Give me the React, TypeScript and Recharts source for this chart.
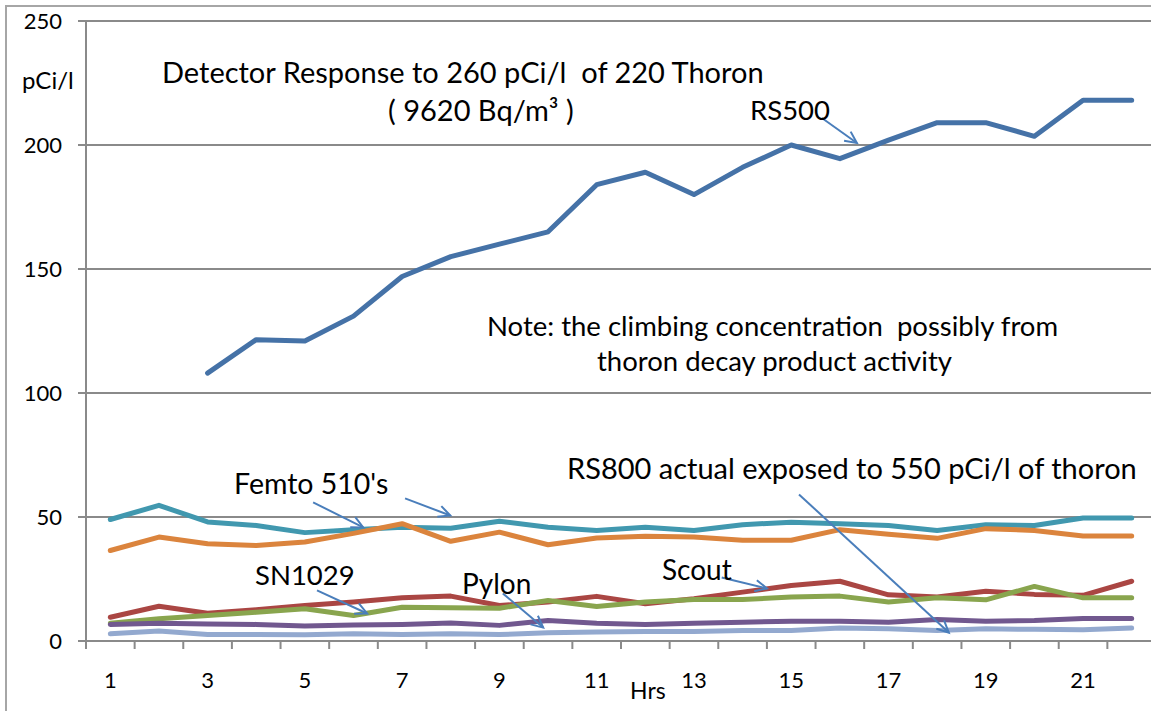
import React from 'react';
import { LineChart, Line, XAxis, YAxis, CartesianGrid, ReferenceLine } from 'recharts';

const hours = [1, 2, 3, 4, 5, 6, 7, 8, 9, 10, 11, 12, 13, 14, 15, 16, 17, 18, 19, 20, 21, 22];

const rs500 = [null, null, 108, 121.5, 121, 131, 147, 155, 160, 165, 184, 189, 180, 191, 200, 194.5, 202, 209, 209, 203.5, 218, 218];
const scout = [9.6, 14, 11.2, 12.6, 14.3, 15.7, 17.4, 18.1, 14.3, 15.7, 18, 15, 17, 19.7, 22.4, 24.1, 18.6, 17.7, 20.1, 18.8, 18.4, 24.1];
const sn1029 = [7.2, 9, 10.3, 11.6, 13, 10.3, 13.6, 13.4, 13.2, 16.3, 13.9, 15.7, 16.7, 16.7, 17.7, 18.1, 15.7, 17.4, 16.6, 22, 17.4, 17.4];
const pylon = [6.7, 7.2, 6.9, 6.7, 6, 6.5, 6.7, 7.3, 6.3, 8.3, 7.2, 6.7, 7.2, 7.6, 8, 8, 7.6, 8.7, 8, 8.3, 9.1, 9.1];
const femtoA = [49, 54.7, 48, 46.6, 43.7, 44.9, 45.9, 45.5, 48.3, 45.9, 44.6, 45.9, 44.6, 46.9, 47.9, 47.3, 46.6, 44.6, 46.9, 46.6, 49.6, 49.6];
const femtoB = [36.5, 41.9, 39.2, 38.5, 39.9, 43.4, 47.3, 40.2, 43.9, 38.8, 41.5, 42.2, 41.9, 40.6, 40.6, 44.9, 43, 41.4, 45.3, 44.6, 42.3, 42.3];
const rs800 = [2.9, 4, 2.6, 2.6, 2.5, 2.9, 2.6, 2.9, 2.6, 3.3, 3.6, 3.8, 3.8, 4.2, 4.2, 5.2, 4.9, 4.2, 4.9, 4.7, 4.5, 5.2];

const yTicks = [0, 50, 100, 150, 200, 250];
const xLabels = [1, 3, 5, 7, 9, 11, 13, 15, 17, 19, 21];
const xMarks = [0.5, 1.5, 2.5, 3.5, 4.5, 5.5, 6.5, 7.5, 8.5, 9.5, 10.5, 11.5, 12.5, 13.5, 14.5, 15.5, 16.5, 17.5, 18.5, 19.5, 20.5, 21.5, 22.5];

// annotation arrows, in chart units (from -> to)
const arrows = [
  { from: { x: 15.63, y: 210.9 }, to: { x: 16.35, y: 200.8 } },
  { from: { x: 5.17, y: 55.9 }, to: { x: 6.2, y: 45.8 } },
  { from: { x: 7.06, y: 57.5 }, to: { x: 7.99, y: 50.6 } },
  { from: { x: 5.25, y: 20.4 }, to: { x: 6.28, y: 11.1 } },
  { from: { x: 9.07, y: 19.2 }, to: { x: 9.9, y: 5.4 } },
  { from: { x: 13.57, y: 25.6 }, to: { x: 14.5, y: 21.2 } },
  { from: { x: 15.16, y: 59.1 }, to: { x: 18.24, y: 3.4 } },
];

const data = hours.map((h, i) => ({
  hr: h,
  rs500: rs500[i],
  scout: scout[i],
  sn1029: sn1029[i],
  pylon: pylon[i],
  femtoA: femtoA[i],
  femtoB: femtoB[i],
  rs800: rs800[i],
}));

const FONT = 'Lato, "Open Sans", sans-serif';
const GRAY = '#8a8a8a';
const ARROW = '#4a7ebb';

const ArrowShape = (props: any) => {
  const { x1, y1, x2, y2 } = props;
  if ([x1, y1, x2, y2].some(v => typeof v !== 'number' || isNaN(v))) return null;
  const ang = Math.atan2(y2 - y1, x2 - x1);
  const len = 13;
  const spread = 0.45;
  const ax = x2 - len * Math.cos(ang - spread);
  const ay = y2 - len * Math.sin(ang - spread);
  const bx = x2 - len * Math.cos(ang + spread);
  const by = y2 - len * Math.sin(ang + spread);
  return (
    <g>
      <line x1={x1} y1={y1} x2={x2} y2={y2} stroke={ARROW} strokeWidth={2} />
      <polyline points={`${ax},${ay} ${x2},${y2} ${bx},${by}`} fill="none" stroke={ARROW} strokeWidth={2} />
    </g>
  );
};

const XTick = (props: any) => {
  const { x, y, payload } = props;
  const v = payload.value;
  if (Number.isInteger(v)) {
    return (
      <text x={x} y={y} dy="0.71em" textAnchor="middle" fill="#000" fontSize={22} fontFamily={FONT}>
        {v}
      </text>
    );
  }
  const axisY = y - 31;
  return <line x1={x} y1={axisY} x2={x} y2={axisY + 8} stroke={GRAY} strokeWidth={2} />;
};

const txt = (left: number, center: number, size: number): React.CSSProperties => ({
  position: 'absolute',
  left,
  top: center - size / 2 - 0.5,
  fontSize: size,
  fontFamily: FONT,
  color: '#000',
  whiteSpace: 'pre',
  lineHeight: 1,
});

export default function App() {
  return (
    <div style={{ position: 'fixed', left: 0, top: 0, width: 1151, height: 711, overflow: 'hidden', background: '#fff' }}>
      <div style={{ position: 'absolute', left: 5, top: 5, width: 1200, height: 800, borderLeft: '2px solid #a6a6a6', borderTop: '2px solid #a6a6a6' }} />
      <div style={{ position: 'absolute', left: 0, top: 0 }}>
        <LineChart width={1160} height={711} data={data} margin={{ top: 21, right: 4, bottom: 0, left: 0 }}>
          <CartesianGrid vertical={false} stroke={GRAY} strokeWidth={2} />
          <XAxis
            dataKey="hr"
            type="number"
            domain={[0.5, 22.5]}
            ticks={[...xMarks, ...xLabels].sort((a, b) => a - b)}
            interval={0}
            height={70}
            tickSize={0}
            tickMargin={31}
            tickLine={false}
            axisLine={{ stroke: GRAY, strokeWidth: 2 }}
            tick={<XTick />}
          />
          <YAxis
            domain={[0, 250]}
            ticks={yTicks}
            width={86}
            tickSize={8}
            tickMargin={16}
            axisLine={{ stroke: GRAY, strokeWidth: 2 }}
            tickLine={{ stroke: GRAY, strokeWidth: 2 }}
            tick={{ fill: '#000', fontSize: 22, fontFamily: FONT }}
          />
          <Line isAnimationActive={false} type="linear" dataKey="rs500" name="RS500" stroke="#4572a7" strokeWidth={5} dot={false} strokeLinecap="round" strokeLinejoin="round" />
          <Line isAnimationActive={false} type="linear" dataKey="scout" name="Scout" stroke="#aa4643" strokeWidth={5} dot={false} strokeLinecap="round" strokeLinejoin="round" />
          <Line isAnimationActive={false} type="linear" dataKey="sn1029" name="SN1029" stroke="#89a54e" strokeWidth={5} dot={false} strokeLinecap="round" strokeLinejoin="round" />
          <Line isAnimationActive={false} type="linear" dataKey="pylon" name="Pylon" stroke="#71588f" strokeWidth={5} dot={false} strokeLinecap="round" strokeLinejoin="round" />
          <Line isAnimationActive={false} type="linear" dataKey="femtoA" name="Femto 510 A" stroke="#4198af" strokeWidth={5} dot={false} strokeLinecap="round" strokeLinejoin="round" />
          <Line isAnimationActive={false} type="linear" dataKey="femtoB" name="Femto 510 B" stroke="#db843d" strokeWidth={5} dot={false} strokeLinecap="round" strokeLinejoin="round" />
          <Line isAnimationActive={false} type="linear" dataKey="rs800" name="RS800" stroke="#93a9cf" strokeWidth={5} dot={false} strokeLinecap="round" strokeLinejoin="round" />
          {arrows.map((a, i) => (
            <ReferenceLine key={i} segment={[a.from, a.to]} ifOverflow="visible" shape={<ArrowShape />} />
          ))}
        </LineChart>
      </div>
      <div style={txt(22, 80, 24)}>pCi/l</div>
      <div style={txt(162, 72, 29)}>Detector Response to 260 pCi/l  of 220 Thoron</div>
      <div style={txt(388, 110, 29)}>( 9620 Bq/m³ )</div>
      <div style={txt(750, 110, 27.5)}>RS500</div>
      <div style={txt(487, 326, 27.5)}>Note: the climbing concentration  possibly from</div>
      <div style={txt(597, 361, 27.5)}>thoron decay product activity</div>
      <div style={txt(567, 468, 29)}>RS800 actual exposed to 550 pCi/l of thoron</div>
      <div style={txt(234, 484, 28.5)}>Femto 510's</div>
      <div style={txt(255, 575, 27.5)}>SN1029</div>
      <div style={txt(462, 583, 28)}>Pylon</div>
      <div style={txt(662, 569, 28)}>Scout</div>
      <div style={txt(630, 691, 23)}>Hrs</div>
    </div>
  );
}
